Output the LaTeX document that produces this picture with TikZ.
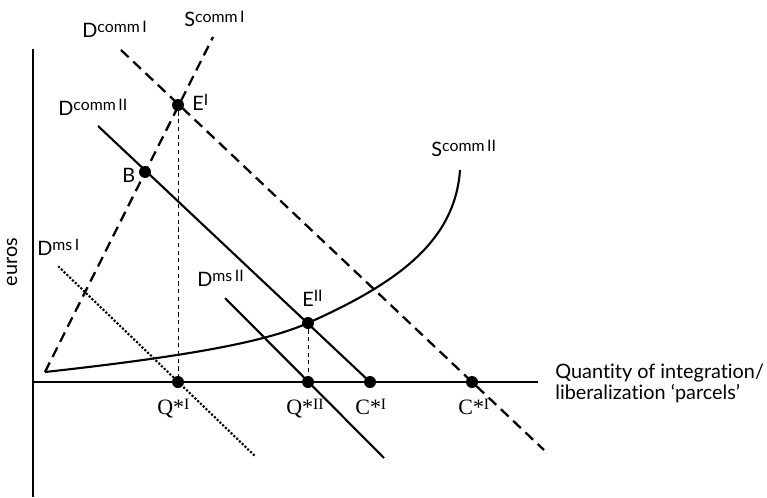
\documentclass[tikz,border=0pt]{standalone}
\usepackage{fontspec}
\setmainfont{Lato}[Ligatures={NoCommon}]
\newfontfamily\qcfont{Liberation Serif}
\usetikzlibrary{calc}
\newcommand\upr[1]{\raisebox{2.6pt}{\fontsize{9}{9}\selectfont #1}}

\begin{document}
\begin{tikzpicture}[x=0.02cm, y=-0.02cm,
    ax/.style={line width=1pt},
    solidln/.style={line width=1.2pt},
    dshln/.style={line width=1.3pt, dash pattern=on 6pt off 3.6pt},
    guide/.style={line width=0.55pt, dash pattern=on 2.4pt off 2pt},
    dotln/.style={line width=1.7pt, line cap=round, dash pattern=on 0pt off 2.2pt},
    dot/.style={circle, fill, inner sep=0pt, minimum size=0.24cm},
    lbl/.style={anchor=base west, inner sep=0pt, font=\fontsize{11.3}{11.4}\selectfont},
    qlbl/.style={anchor=base west, inner sep=0pt, font=\qcfont\fontsize{12.5}{13}\selectfont}
]
\useasboundingbox (0,0) rectangle (767,497);
\def\yax{382}   % quantity axis

% axes
\coordinate (Otop) at (33,49);
\coordinate (Obot) at (33,497);
\coordinate (Xl) at (33,\yax);
\coordinate (Xr) at (538,\yax);
\draw[ax] (Otop) -- (Obot);
\draw[ax] (Xl) -- (Xr);

% end points of the schedules
\coordinate (S0)  at (45,372);   % common start of the two supply curves
\coordinate (S1t) at (213,37);
\coordinate (D1a) at (121,50);
\coordinate (D1b) at (544,450);
\coordinate (D2a) at (98,126);
\coordinate (M1a) at (59,267);
\coordinate (M1b) at (256,457);
\coordinate (M2a) at (225,298);
\coordinate (M2b) at (384,458);
\coordinate (S2t) at (460,170);

% points
\node[dot] (Ep)  at (178,105) {};
\node[dot] (B)   at (145,172) {};
\node[dot] (Epp) at (308,323) {};
\node[dot] (Q1)  at (178,\yax) {};
\node[dot] (Q2)  at (308,\yax) {};
\node[dot] (C1)  at (370,\yax) {};
\node[dot] (C2)  at (472,\yax) {};

% schedules
\draw[dshln] (S0) -- (S1t);
\draw[dshln] (D1a) -- (D1b);
\draw[solidln] (D2a) -- (C1.center);
\draw[dotln] (M1a) -- (M1b);
\draw[solidln] (M2a) -- (M2b);
\draw[solidln] (S0) .. controls (200,355) and (270,340) .. (Epp.center)
    .. controls (400,282) and (455,240) .. (S2t);

% drop lines
\draw[guide] (Ep) -- (Q1);
\draw[guide] (Epp) -- (Q2);

% curve labels
\node[lbl] (lD1) at (82,37)   {D\upr{comm\,I}};
\node[lbl] (lS1) at (184,27)  {S\upr{comm\,I}};
\node[lbl] (lD2) at (58,115)  {D\upr{comm\,II}};
\node[lbl] (lS2) at (431,156) {S\upr{comm\,II}};
\node[lbl] (lM1) at (37,255)  {D\upr{ms\,I}};
\node[lbl] (lM2) at (197,286) {D\upr{ms\,II}};
\node[lbl] (lEp)  at (192,110) {E\upr{I}};
\node[lbl] (lB)   at (122,182) {B};
\node[lbl] (lEpp) at (302,306) {E\upr{II}};

% axis labels
\node[qlbl] (lQ1) at (157,414) {Q*\upr{I}};
\node[qlbl] (lQ2) at (286,414) {Q*\upr{II}};
\node[qlbl] (lC1) at (355,414) {C*\upr{I}};
\node[qlbl] (lC2) at (458,414) {C*\upr{I}};
\node[lbl, align=left, font=\fontsize{11.3}{11.5}\selectfont] (lX) at (555,399)
    {Quantity of integration/\\liberalization ‘parcels’};
\node[rotate=90, font=\fontsize{11.3}{12}\selectfont] (lY) at (12,262) {euros};
\end{tikzpicture}
\end{document}
